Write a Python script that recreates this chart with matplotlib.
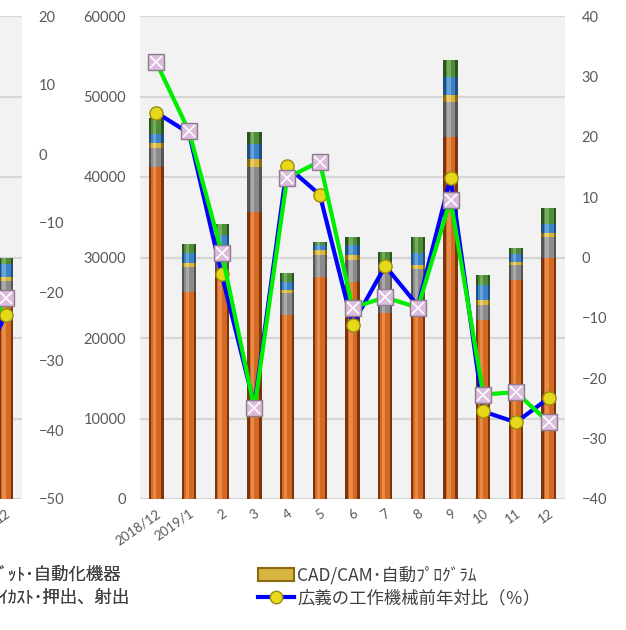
import numpy as np
import matplotlib
matplotlib.use('Agg')
import matplotlib.pyplot as plt
from matplotlib.patches import Patch
from matplotlib.lines import Line2D

plt.rcParams['font.family'] = ['Lato', 'Noto Sans CJK JP', 'DejaVu Sans']

# data (bars in units, lines in %)
months = ['2018/12', '2019/1', '2', '3', '4', '5', '6', '7', '8', '9', '10', '11', '12']
machine_tools = [41200, 25700, 28500, 35700, 22800, 27600, 26900, 23100, 24000, 45000, 22200, 27200, 29900]
forming = [2400, 3100, 2700, 5600, 2800, 2700, 2800, 5000, 4600, 4300, 1900, 1900, 2600]
cadcam = [600, 500, 400, 900, 400, 600, 600, 400, 500, 900, 600, 400, 500]
diecast = [1200, 1200, 1200, 1900, 900, 600, 1200, 1000, 1500, 2200, 1900, 900, 1200]
robots = [1900, 1200, 1300, 1500, 1200, 400, 1000, 1200, 1900, 2100, 1200, 800, 2000]
broad_yoy = [24.0, 20.6, -2.8, -24.5, 15.1, 10.4, -11.1, -1.4, -8.0, 13.2, -25.5, -27.3, -23.3]
narrow_yoy = [32.3, 20.9, 0.8, -25.0, 13.2, 15.9, -8.3, -6.6, -8.3, 9.6, -22.7, -22.3, -27.3]

# neighbouring chart (only its right edge is visible)
prev_months = ['11', '12']
prev_machine_tools = [24500]
prev_forming = [2600]
prev_cadcam = [500]
prev_diecast = [1600]
prev_robots = [800]
prev_broad_yoy = [-33.0, -23.3]
prev_narrow_yoy = [-30.0, -20.8]

series_colors = [
    ('#d4691f', '#7a3510', '#ee9a5c'),   # machine tools
    ('#8a8a8a', '#555555', '#b8b8b8'),   # forming
    ('#d8b440', '#8a6a10', '#f0d880'),   # CAD/CAM
    ('#3c82c4', '#1f4f80', '#7ab4e4'),   # die cast
    ('#4f8c3a', '#2c5420', '#86bc6c'),   # robots
]
tick_color = '#595959'


def cyl_bars(ax, x, stacks):
    x = np.asarray(x, dtype=float)
    bottom = np.zeros(len(x))
    for vals, (base, dark, light) in zip(stacks, series_colors):
        vals = np.asarray(vals, dtype=float)
        ax.bar(x, vals, 0.44, bottom=bottom, color=dark, zorder=2)
        ax.bar(x, vals, 0.30, bottom=bottom, color=base, zorder=2.1)
        ax.bar(x - 0.05, vals, 0.10, bottom=bottom, color=light, alpha=0.7, zorder=2.2)
        bottom += vals


def yoy_lines(ax, x, broad, narrow):
    ax.plot(x, broad, color='#0000ff', lw=3, zorder=3, marker='o', ms=9.5,
            mfc='#e6d81a', mec='#9a8a10', mew=1)
    ax.plot(x, narrow, color='#00ee00', lw=3, zorder=4, marker='s', ms=11,
            mfc='#dcbcdc', mec='#8c7c8c', mew=1)
    ax.plot(x, narrow, ls='none', marker='x', ms=8, mec='white', mew=1.2, zorder=5)


def style(ax, axr, ylim_r, right_ticks):
    ax.set_facecolor('#f2f2f2')
    ax.set_ylim(0, 60000)
    ax.set_yticks(np.arange(0, 60001, 10000))
    ax.set_xlim(-0.5, 12.5)
    ax.grid(axis='y', color='#d6d6d6', lw=1.6)
    ax.set_axisbelow(True)
    axr.set_ylim(*ylim_r)
    axr.set_yticks(right_ticks)
    for a in (ax, axr):
        for s in a.spines.values():
            s.set_visible(False)
        a.tick_params(length=0, colors=tick_color, labelsize=10.5)
    ax.tick_params(axis='y', pad=10)
    axr.tick_params(axis='y', pad=12)
    ax.tick_params(axis='x', labelsize=9.5, pad=6)
    for lbl in ax.get_xticklabels():
        lbl.set_rotation(35)
        lbl.set_ha('right')
        lbl.set_rotation_mode('anchor')


W, H = 626, 630
fig = plt.figure(figsize=(W / 100, H / 100), dpi=100)

y0, y1 = 499, 16
bottom_f = (H - y0) / H
height_f = (y0 - y1) / H

# partial chart on the left
axp = fig.add_axes([-403 / W, bottom_f, 425 / W, height_f])
axpr = axp.twinx()
cyl_bars(axp, [12], [prev_machine_tools, prev_forming, prev_cadcam, prev_diecast, prev_robots])
yoy_lines(axpr, [11, 12], prev_broad_yoy, prev_narrow_yoy)
axp.set_xticks([11, 12])
axp.set_xticklabels(prev_months)
style(axp, axpr, (-50, 20), np.arange(-50, 21, 10))
axp.set_yticklabels([])

# main chart
ax = fig.add_axes([140 / W, bottom_f, 425 / W, height_f])
axr = ax.twinx()
x = np.arange(len(months))
cyl_bars(ax, x, [machine_tools, forming, cadcam, diecast, robots])
yoy_lines(axr, x, broad_yoy, narrow_yoy)
ax.set_xticks(x)
ax.set_xticklabels(months)
style(ax, axr, (-40, 40), np.arange(-40, 41, 10))

# legend (left part is cut by the figure edge)
leg_font = {'family': 'Noto Sans CJK JP', 'size': 12.5}
h_robot = Patch(facecolor=series_colors[4][0], edgecolor=series_colors[4][1])
h_die = Patch(facecolor=series_colors[3][0], edgecolor=series_colors[3][1])
h_cad = Patch(facecolor=series_colors[2][0], edgecolor=series_colors[2][1], lw=1.5)
h_broad = Line2D([], [], color='#0000ff', lw=3, marker='o', ms=9, mfc='#e6d81a', mec='#9a8a10')

leg1 = fig.legend([h_robot, h_die], ['ﾛﾎﾞｯﾄ･自動化機器', 'ﾀﾞｲｶｽﾄ･押出、射出'],
                  loc='upper right', bbox_to_anchor=(130 / W, 1 - 566 / H),
                  frameon=False, prop=leg_font, labelcolor='#404040',
                  handlelength=2.1, handletextpad=0.15, labelspacing=0.25,
                  borderpad=0, borderaxespad=0)
fig.legend([h_cad, h_broad], ['CAD/CAM･自動ﾌﾟﾛｸﾞﾗﾑ', '広義の工作機械前年対比（％）'],
           loc='upper left', bbox_to_anchor=(258 / W, 1 - 566 / H),
           frameon=False, prop=leg_font, labelcolor='#404040',
           handlelength=2.1, handletextpad=0.15, labelspacing=0.25,
           borderpad=0, borderaxespad=0)
fig.add_artist(leg1)

fig.savefig('out.png', dpi=100)
